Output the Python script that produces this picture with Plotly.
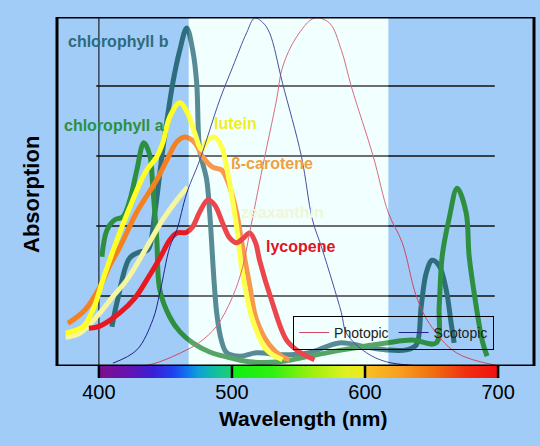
import plotly.graph_objects as go

# absorption curves (wavelength nm, relative absorption)
chl_b_nm = [409.75, 414, 423, 431, 436.75, 442, 448, 455.5, 460.75, 466, 470.5, 473.5, 475.75, 481,
            483.25, 488.5, 492, 496, 506, 518.5, 538, 558, 580.75, 601, 616, 631, 638.5, 642.25,
            646, 650.5, 655.75, 661, 664.75, 667]
chl_b_abs = [0.56, 0.94, 1.54, 1.63, 1.66, 2.19, 3.09, 4.04, 4.51, 4.83, 4.51, 4.04, 3.09, 2.66,
             2.19, 0.76, 0.37, 0.19, 0.14, 0.19, 0.16, 0.19, 0.33, 0.27, 0.23, 0.23, 0.30, 0.86,
             1.33, 1.51, 1.43, 1.09, 0.61, 0.33]

chl_a_nm = [402.25, 406, 412, 418, 423.25, 428.5, 433.75, 438.25, 440.5, 443.5, 445.75, 453.25,
            460.75, 470.5, 483.25, 496, 513.25, 535.75, 558, 583, 616, 635.5, 653.5, 655.75, 658,
            663.25, 669.25, 676, 678.25, 683.5, 688, 691.75]
chl_a_abs = [1.56, 1.94, 2.09, 2.13, 2.37, 2.8, 3.19, 3.01, 2.56, 1.8, 1.09, 0.70,
             0.49, 0.33, 0.2, 0.13, 0.06, 0.06, 0.14, 0.23, 0.33, 0.37, 0.33, 0.86, 1.57,
             2.11, 2.54, 2.19, 1.57, 0.86, 0.37, 0.14]

lutein_nm = [375, 388, 395.5, 403, 413.5, 423.25, 430.75, 436, 443.5, 448, 453.25, 460.75, 466.75,
             472, 477.25, 481.75, 487, 492.25, 496, 503.5, 507.25, 515.5, 526, 538]
lutein_abs = [0.47, 0.56, 0.8, 1.23, 1.8, 2.27, 2.61, 2.8, 2.99, 3.19, 3.56, 3.76, 3.61,
              3.33, 3.09, 3.23, 3.27, 3.13, 2.84, 1.99, 1.41, 0.66, 0.23, 0.09]

carotene_nm = [376.75, 389.5, 400.75, 408.25, 415.75, 428.5, 443.5, 451, 458.5, 464.5, 472, 478,
               485.5, 492.25, 498.25, 503.5, 508, 513.25, 518.5, 528.25, 538, 543.25]
carotene_abs = [0.61, 0.8, 1.13, 1.44, 1.7, 2.2, 2.66, 2.94, 3.2, 3.27, 3.19, 2.99,
                2.84, 2.8, 2.56, 2.19, 1.7, 1.16, 0.66, 0.3, 0.13, 0.09]

zeax_nm = [375, 385.75, 400.75, 410.5, 421, 436, 448, 458.5, 466.75]
zeax_abs = [0.41, 0.47, 0.76, 0.99, 1.23, 1.7, 2.09, 2.37, 2.56]

lycopene_nm = [392.5, 400.75, 415.75, 427, 436, 445.75, 453.25, 458.5, 466, 470.5, 475.75, 481.75,
               487, 493, 498.25, 503.5, 508.75, 513.25, 517.75, 520.75, 529.75, 541, 550.75, 562]
lycopene_abs = [0.54, 0.57, 0.76, 0.97, 1.23, 1.54, 1.8, 1.9, 1.91, 1.99, 2.2, 2.37,
                2.3, 2.04, 1.83, 1.76, 1.83, 1.9, 1.76, 1.51, 0.94, 0.37, 0.2, 0.09]

photopic_nm = [436, 445.75, 466, 475.75, 488.5, 500.5, 508, 513.25, 523, 533.5, 538, 548.5, 562,
               573.25, 582.25, 589.75, 606.25, 617.5, 628, 638.5, 648.25, 668.5, 698.5]
photopic_abs = [0.01, 0.06, 0.23, 0.34, 0.57, 0.99, 1.41, 1.9, 2.84, 3.8, 4.27, 4.7, 4.97,
                4.9, 4.51, 3.99, 2.99, 2.19, 1.76, 1.0, 0.61, 0.19, 0.01]

scotopic_nm = [410.5, 428.5, 440.5, 445.75, 453.25, 458.5, 466, 475.75, 490.75, 500.5, 511, 517,
               523, 528.25, 538, 552.25, 560.5, 568, 582.25, 586, 601, 616, 635.5]
scotopic_abs = [0.04, 0.23, 0.66, 1.04, 1.7, 1.94, 2.47, 2.94, 3.8, 4.27, 4.76, 4.97,
                4.91, 4.76, 4.04, 2.99, 2.09, 1.66, 0.76, 0.47, 0.19, 0.06, 0.01]

# spectrum strip under the axis
spectrum_nm = [400, 401, 420, 440, 455, 465, 475, 487, 499.5, 500.5, 530, 560, 585, 599.5, 600.5,
               625, 650, 675, 699, 700]
spectrum_col = ["#7a1090", "#7a1090", "#6a10b0", "#3a20d8", "#2040f0", "#1070f0", "#10a0d8",
                "#10c0a0", "#20d070", "#10ee10", "#30f010", "#a0f010", "#e0f020", "#f0e820",
                "#f8c020", "#f8a020", "#f07010", "#f03010", "#f01010", "#f01010"]

tick_nm = [400, 500, 600, 700]
grid_levels = [1, 2, 3, 4]

YTOP = 4.986
BAR = 12 / 361

fig = go.Figure()

curves = [
    (chl_b_nm, chl_b_abs, "#2e6e7c", 5),
    (chl_a_nm, chl_a_abs, "#2e8f40", 5),
    (zeax_nm, zeax_abs, "#f6f6a0", 5),
    (carotene_nm, carotene_abs, "#f58020", 5),
    (lutein_nm, lutein_abs, "#ffff22", 5),
    (lycopene_nm, lycopene_abs, "#e81820", 5),
]
for xs, ys, col, w in curves:
    fig.add_trace(go.Scatter(x=xs, y=ys, mode="lines", line=dict(color=col, width=w, shape="spline"),
                             showlegend=False, hoverinfo="skip"))

fig.add_trace(go.Scatter(x=photopic_nm, y=photopic_abs, mode="lines", name="Photopic",
                         line=dict(color="#d04860", width=1, shape="spline")))
fig.add_trace(go.Scatter(x=scotopic_nm, y=scotopic_abs, mode="lines", name="Scotopic",
                         line=dict(color="#22228a", width=1, shape="spline")))

lo, hi = spectrum_nm[0], spectrum_nm[-1]
fig.add_trace(go.Heatmap(
    x=spectrum_nm, y=[0, 1], z=[spectrum_nm, spectrum_nm], xaxis="x", yaxis="y2",
    zmin=lo, zmax=hi, zsmooth="best", showscale=False, hoverinfo="skip",
    colorscale=[[(v - lo) / (hi - lo), c] for v, c in zip(spectrum_nm, spectrum_col)],
))

shapes = [
    dict(type="rect", xref="x", yref="y", x0=467.5, x1=617.5, y0=0, y1=YTOP,
         fillcolor="#eeffff", line_width=0, layer="below"),
    dict(type="rect", xref="x", yref="y", x0=467.5, x1=617.5, y0=0, y1=YTOP,
         fillcolor="white", opacity=0.2, line_width=0, layer="above"),
    dict(type="line", xref="x", yref="y", x0=400, x1=400, y0=0, y1=YTOP,
         line=dict(color="black", width=1), layer="below"),
]
for g in grid_levels:
    shapes.append(dict(type="line", xref="x", yref="y", x0=398, x1=697.5, y0=g, y1=g,
                       line=dict(color="#111111", width=1.5), layer="below"))
for t in tick_nm:
    shapes.append(dict(type="line", xref="x", yref="paper", x0=t, x1=t, y0=0, y1=BAR,
                       line=dict(color="black", width=2.5)))
shapes.append(dict(type="rect", xref="paper", yref="y", x0=0, x1=1, y0=0, y1=YTOP,
                   line=dict(color="black", width=3), layer="above"))

labels = [
    ("chlorophyll b", 415, 4.63, "#2f6a7a"),
    ("chlorophyll a", 411, 3.44, "#2e9040"),
    ("lutein", 502.8, 3.46, "#eeee22"),
    ("ß-carotene", 529.8, 2.90, "#f0a040"),
    ("zeaxanthin", 538, 2.20, "#eef7d4"),
    ("lycopene", 551.5, 1.71, "#e0141e"),
]
annotations = [dict(text="<b>%s</b>" % t, x=x, y=y, xref="x", yref="y", showarrow=False,
                    xanchor="center", yanchor="middle",
                    font=dict(size=16, color=c)) for t, x, y, c in labels]
annotations.append(dict(text="<b>Absorption</b>", x=-0.0524, y=0.507, xref="paper", yref="paper",
                        xanchor="center", yanchor="middle",
                        textangle=-90, showarrow=False, font=dict(size=22, color="black")))
annotations.append(dict(text="<b>Wavelength (nm)</b>", x=0.516, y=-0.111, xref="paper", yref="paper",
                        xanchor="center", yanchor="middle",
                        showarrow=False, font=dict(size=21, color="black")))

fig.update_layout(
    width=540, height=446,
    margin=dict(l=57, r=6, t=17, b=68),
    paper_bgcolor="#a0ccf7", plot_bgcolor="#a0ccf7",
    font=dict(family="Arial, Liberation Sans, sans-serif", color="black"),
    xaxis=dict(range=[368.5, 727], anchor="y2", tickvals=tick_nm, ticks="", showgrid=False,
               zeroline=False, showline=False, tickfont=dict(size=20)),
    yaxis=dict(range=[0, YTOP], domain=[BAR, 1], visible=False),
    yaxis2=dict(range=[-0.5, 1.5], domain=[0, BAR], visible=False),
    showlegend=True,
    legend=dict(orientation="h", x=0.495, y=0.172, xanchor="left", yanchor="top",
                bgcolor="rgba(0,0,0,0)", bordercolor="black", borderwidth=1,
                font=dict(size=14, color="#222222")),
    shapes=shapes,
    annotations=annotations,
)

fig.write_html("out.html", config={"displayModeBar": False},
               post_script="document.body.style.margin='0';")
